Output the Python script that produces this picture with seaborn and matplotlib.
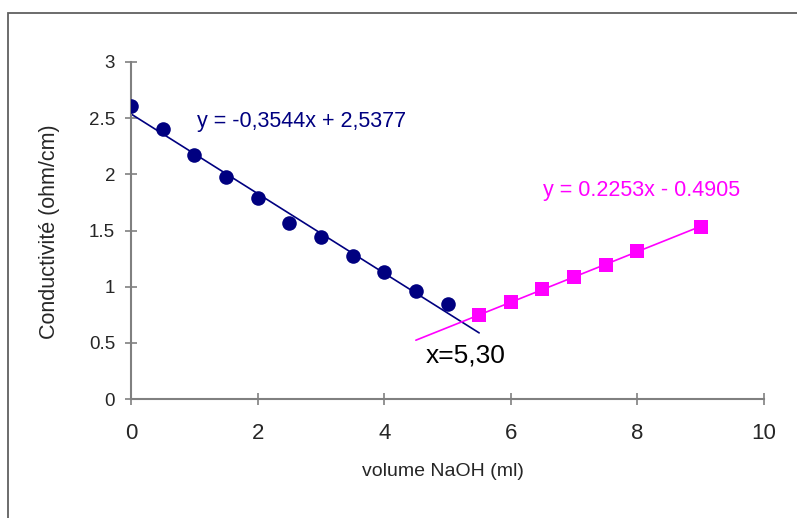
import numpy as np
import pandas as pd
import matplotlib
matplotlib.use("Agg")
import matplotlib.pyplot as plt
from matplotlib.patches import Rectangle
import seaborn as sns

# ---- data ----
vol_acid = [0, 0.5, 1, 1.5, 2, 2.5, 3, 3.5, 4, 4.5, 5]
cond_acid = [2.61, 2.40, 2.17, 1.98, 1.79, 1.57, 1.44, 1.27, 1.13, 0.96, 0.85]
vol_base = [5.5, 6, 6.5, 7, 7.5, 8, 9]
cond_base = [0.75, 0.86, 0.98, 1.09, 1.19, 1.32, 1.53]

fit_acid = (-0.3544, 2.5377)   # slope, intercept
fit_base = (0.2253, -0.4905)
fit_acid_range = (0, 5.5)
fit_base_range = (4.5, 9)

eq_acid = "y = -0,3544x + 2,5377"
eq_base = "y = 0.2253x - 0.4905"
intersect_label = "x=5,30"
xlabel = "volume NaOH (ml)"
ylabel = "Conductivité (ohm/cm)"
xticks = [0, 2, 4, 6, 8, 10]
yticks = [0, 0.5, 1, 1.5, 2, 2.5, 3]
ytick_labels = ["0", "0.5", "1", "1.5", "2", "2.5", "3"]

NAVY = "#000080"
MAG = "#FF00FF"

sns.set_style("white")
plt.rcParams["font.family"] = ["Liberation Sans", "DejaVu Sans"]

fig = plt.figure(figsize=(7.97, 5.18), dpi=100)
ax = fig.add_axes([131 / 797, 1 - 399 / 518, (764 - 131) / 797, (399 - 62) / 518])

df_a = pd.DataFrame({"x": vol_acid, "y": cond_acid})
df_b = pd.DataFrame({"x": vol_base, "y": cond_base})

xa = np.linspace(*fit_acid_range, 50)
xb = np.linspace(*fit_base_range, 50)
ax.plot(xa, fit_acid[0] * xa + fit_acid[1], color=NAVY, lw=1.2, zorder=2)
ax.plot(xb, fit_base[0] * xb + fit_base[1], color=MAG, lw=1.2, zorder=2)

sns.scatterplot(data=df_a, x="x", y="y", ax=ax, color=NAVY, marker="o", s=110,
                edgecolor=NAVY, linewidth=0, zorder=3)
sns.scatterplot(data=df_b, x="x", y="y", ax=ax, color=MAG, marker="s", s=100,
                edgecolor=MAG, linewidth=0, zorder=3)

ax.text(1.04, 2.47, eq_acid, color=NAVY, fontsize=15.5, va="center", ha="left")
ax.text(6.51, 1.86, eq_base, color=MAG, fontsize=15.5, va="center", ha="left")
ax.text(4.66, 0.39, intersect_label, color="black", fontsize=19, va="center", ha="left")

ax.set_xlim(0, 10)
ax.set_ylim(0, 3)
ax.set_xticks(xticks)
ax.set_yticks(yticks)
ax.set_yticklabels(ytick_labels)
ax.set_xlabel(xlabel, fontsize=14)
ax.set_ylabel(ylabel, fontsize=15.5)
ax.xaxis.set_label_coords((443 - 131) / 633, (399 - 471) / 337)
ax.yaxis.set_label_coords((50 - 131) / 633, (399 - 232) / 337)
ax.xaxis.label.set_va("center")
ax.yaxis.label.set_va("center")
ax.tick_params(axis="both", direction="inout", length=9, width=1.2, color="#808080",
               left=True, bottom=True)
ax.tick_params(axis="x", labelsize=16, pad=13)
ax.tick_params(axis="y", labelsize=13.5, pad=7)
for side in ["top", "right"]:
    ax.spines[side].set_visible(False)
for side in ["left", "bottom"]:
    ax.spines[side].set_color("#808080")
    ax.spines[side].set_linewidth(1.5)
ax.set_facecolor("white")

# outer chart border (top and left visible)
fig.patches.append(Rectangle((8 / 797, -0.05), 1.2, 1 - 13 / 518 + 0.05,
                             transform=fig.transFigure, fill=False,
                             edgecolor="#606060", linewidth=1.3, zorder=0))

fig.savefig("out.png", dpi=100)
